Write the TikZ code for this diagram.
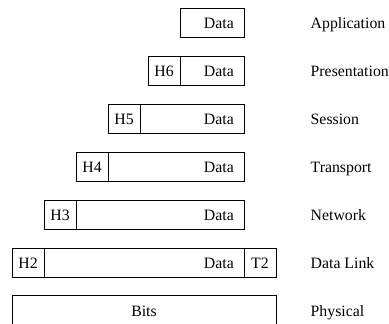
\documentclass[tikz,border=0pt]{standalone}
\usepackage{fontspec}
\setmainfont{Liberation Serif}
\begin{document}
\begin{tikzpicture}[x=1pt,y=-1pt,
  font=\fontsize{15.8}{18}\selectfont,
  cell/.style={draw, line width=0.8pt, rectangle, inner sep=0pt,
    minimum height=29.5pt, anchor=north west},
  hcell/.style={cell, minimum width=32pt},
  txt/.style={anchor=base, inner sep=0pt},
  dtxt/.style={anchor=base east, inner sep=0pt},
  lbl/.style={anchor=base west, inner sep=0pt}]
\useasboundingbox (0,0) rectangle (389,324);

% Application
\node[cell, minimum width=64pt] (d7) at (180,7.5) {};
\node[dtxt] (d7t) at (234,28.5) {Data};
\node[lbl] (l7) at (310.5,28.5) {Application};

% Presentation
\node[hcell] (h6) at (148,55.5) {};
\node[txt] (h6t) at (164,76.5) {H6};
\node[cell, minimum width=64pt] (d6) at (180,55.5) {};
\node[dtxt] (d6t) at (234,76.5) {Data};
\node[lbl] (l6) at (310.5,76.5) {Presentation};

% Session
\node[hcell] (h5) at (108,103.5) {};
\node[txt] (h5t) at (124,124.5) {H5};
\node[cell, minimum width=104pt] (d5) at (140,103.5) {};
\node[dtxt] (d5t) at (234,124.5) {Data};
\node[lbl] (l5) at (310.5,124.5) {Session};

% Transport
\node[hcell] (h4) at (76,151.5) {};
\node[txt] (h4t) at (92,172.5) {H4};
\node[cell, minimum width=136pt] (d4) at (108,151.5) {};
\node[dtxt] (d4t) at (234,172.5) {Data};
\node[lbl] (l4) at (310.5,172.5) {Transport};

% Network
\node[hcell] (h3) at (44,199.5) {};
\node[txt] (h3t) at (60,220.5) {H3};
\node[cell, minimum width=168pt] (d3) at (76,199.5) {};
\node[dtxt] (d3t) at (234,220.5) {Data};
\node[lbl] (l3) at (310.5,220.5) {Network};

% Data Link
\node[hcell] (h2) at (12,247.5) {};
\node[txt] (h2t) at (28,268.5) {H2};
\node[cell, minimum width=200pt] (d2) at (44,247.5) {};
\node[dtxt] (d2t) at (234,268.5) {Data};
\node[hcell] (t2) at (244,247.5) {};
\node[txt] (t2t) at (260,268.5) {T2};
\node[lbl] (l2) at (310.5,268.5) {Data Link};

% Physical
\coordinate (pbl) at (12,330);
\coordinate (ptl) at (12,295.5);
\coordinate (ptr) at (276,295.5);
\coordinate (pbr) at (276,330);
\draw[line width=0.8pt] (pbl) -- (ptl) -- (ptr) -- (pbr);
\node[txt] (bits) at (144,316.5) {Bits};
\node[lbl] (l1) at (310.5,316.5) {Physical};
\end{tikzpicture}
\end{document}
